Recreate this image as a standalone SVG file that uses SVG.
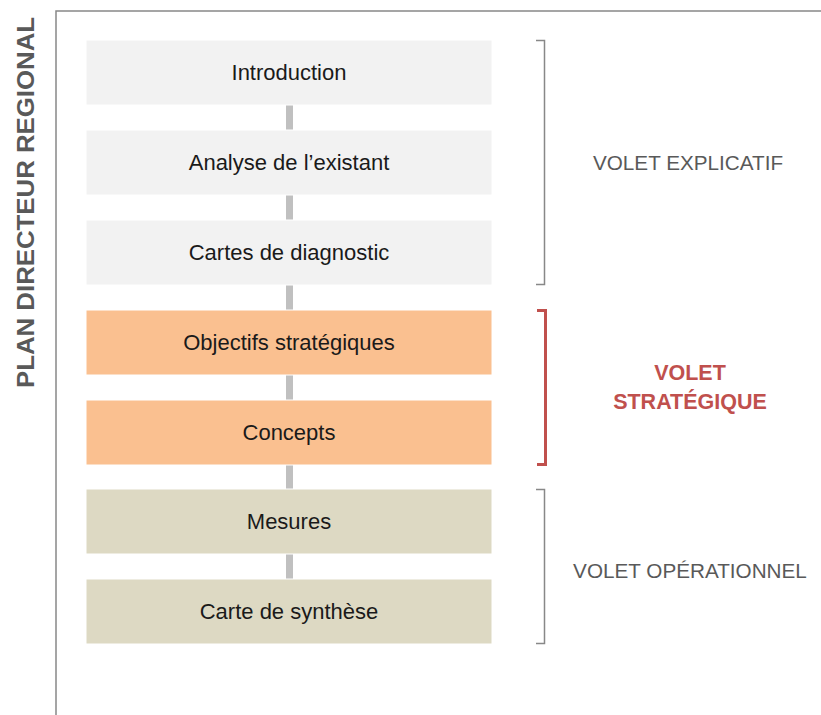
<svg xmlns="http://www.w3.org/2000/svg" width="821" height="715" viewBox="0 0 821 715">
<style>
.box{stroke:#ffffff;stroke-width:1}
.g{fill:#f2f2f2}.o{fill:#fac090}.b{fill:#ddd9c3}
.t{font-family:"Liberation Sans","Open Sans",Arial,sans-serif;font-size:22px;fill:#1a1a1a;text-anchor:middle}
.side{font-family:"Liberation Sans","Open Sans",Arial,sans-serif;font-size:20.7px;fill:#595959;text-anchor:middle}
.red{font-family:"Liberation Sans","Open Sans",Arial,sans-serif;font-size:21.5px;font-weight:bold;fill:#c0504d;text-anchor:middle}
.con{stroke:#c0c0c0;stroke-width:7;fill:none}
.br{fill:none;stroke:#888888;stroke-width:1.5}
</style>
<rect width="821" height="715" fill="#ffffff"/>
<g id="frame">
<polyline points="56,715 56,11 821,11" fill="none" stroke="#888888" stroke-width="1.5"/>
<text transform="translate(34,388) rotate(-90)" font-family="Liberation Sans,Arial,sans-serif" font-size="23" font-weight="bold" fill="#595959" textLength="371" lengthAdjust="spacingAndGlyphs">PLAN DIRECTEUR REGIONAL</text>
</g>
<g id="connectors">
<line class="con" x1="289.5" y1="105" x2="289.5" y2="130"/>
<line class="con" x1="289.5" y1="195" x2="289.5" y2="220"/>
<line class="con" x1="289.5" y1="285" x2="289.5" y2="310"/>
<line class="con" x1="289.5" y1="375" x2="289.5" y2="400"/>
<line class="con" x1="289.5" y1="465" x2="289.5" y2="489"/>
<line class="con" x1="289.5" y1="554" x2="289.5" y2="579"/>
</g>
<g id="n1"><rect class="box g" x="86" y="40" width="406" height="65"/><text class="t" x="289" y="80">Introduction</text></g>
<g id="n2"><rect class="box g" x="86" y="130" width="406" height="65"/><text class="t" x="289" y="170">Analyse de l’existant</text></g>
<g id="n3"><rect class="box g" x="86" y="220" width="406" height="65"/><text class="t" x="289" y="260">Cartes de diagnostic</text></g>
<g id="n4"><rect class="box o" x="86" y="310" width="406" height="65"/><text class="t" x="289" y="350">Objectifs stratégiques</text></g>
<g id="n5"><rect class="box o" x="86" y="400" width="406" height="65"/><text class="t" x="289" y="440">Concepts</text></g>
<g id="n6"><rect class="box b" x="86" y="489" width="406" height="65"/><text class="t" x="289" y="529">Mesures</text></g>
<g id="n7"><rect class="box b" x="86" y="579" width="406" height="65"/><text class="t" x="289" y="619">Carte de synthèse</text></g>
<g id="explicatif">
<polyline class="br" points="536,40.5 544.5,40.5 544.5,284.5 536,284.5"/>
<text class="side" x="688" y="170">VOLET EXPLICATIF</text>
</g>
<g id="strategique">
<polyline points="537,310.5 545.5,310.5 545.5,464.5 537,464.5" fill="none" stroke="#c0504d" stroke-width="3"/>
<text class="red" x="690" y="380">VOLET</text>
<text class="red" x="690" y="409">STRATÉGIQUE</text>
</g>
<g id="operationnel">
<polyline class="br" points="536,489.5 544.5,489.5 544.5,643.5 536,643.5"/>
<text class="side" x="690" y="578">VOLET OPÉRATIONNEL</text>
</g>
</svg>
